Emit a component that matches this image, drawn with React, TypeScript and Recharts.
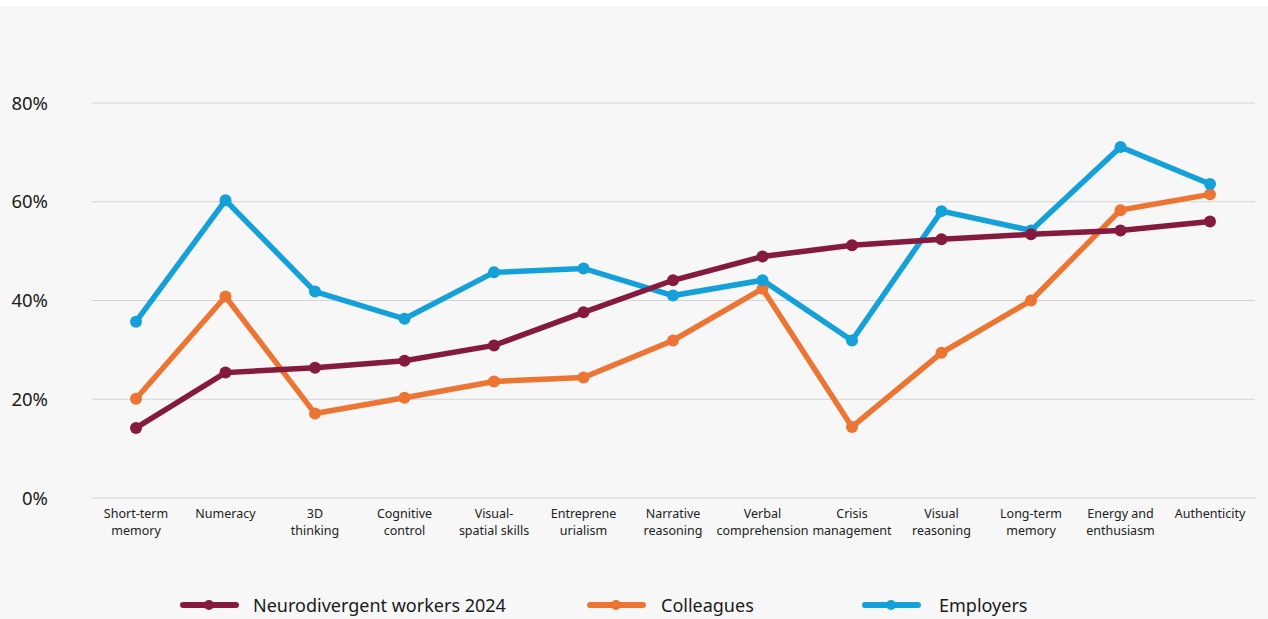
import React from 'react';
import { LineChart, Line, XAxis, YAxis, CartesianGrid } from 'recharts';

const skills = [
  'Short-term\nmemory',
  'Numeracy',
  '3D\nthinking',
  'Cognitive\ncontrol',
  'Visual-\nspatial skills',
  'Entreprene\nurialism',
  'Narrative\nreasoning',
  'Verbal\ncomprehension',
  'Crisis\nmanagement',
  'Visual\nreasoning',
  'Long-term\nmemory',
  'Energy and\nenthusiasm',
  'Authenticity',
];

const neurodivergent = [14.2, 25.4, 26.4, 27.8, 30.9, 37.6, 44.1, 48.9, 51.2, 52.4, 53.4, 54.2, 56.0];
const colleagues = [20.1, 40.8, 17.1, 20.3, 23.6, 24.4, 31.9, 42.4, 14.4, 29.4, 40.0, 58.3, 61.5];
const employers = [35.7, 60.3, 41.8, 36.3, 45.7, 46.5, 41.0, 44.1, 31.9, 58.1, 54.2, 71.1, 63.6];

const yTicks = [0, 20, 40, 60, 80];

const series = [
  { key: 'neuro', name: 'Neurodivergent workers 2024', color: '#841b3f' },
  { key: 'colleagues', name: 'Colleagues', color: '#ec7533' },
  { key: 'employers', name: 'Employers', color: '#14a0d8' },
];

const data = skills.map((skill, i) => ({
  skill,
  neuro: neurodivergent[i],
  colleagues: colleagues[i],
  employers: employers[i],
}));

const FONT = '"Noto Sans", "Open Sans", sans-serif';

function SkillTick({ x, y, payload }: any) {
  const lines = String(payload.value).split('\n');
  return (
    <text x={x} y={y} textAnchor="middle" fill="#222" fontSize={12.5} fontFamily={FONT}>
      {lines.map((line, i) => (
        <tspan key={i} x={x} dy={i === 0 ? 12 : 17}>
          {line}
        </tspan>
      ))}
    </text>
  );
}

function LegendRow() {
  const spots = [
    { left: 180, textLeft: 253 },
    { left: 587, textLeft: 661 },
    { left: 862, textLeft: 939 },
  ];
  return (
    <>
      {series.map((s, i) => (
        <div key={s.key}>
          <div
            style={{
              position: 'absolute',
              left: spots[i].left,
              top: 596,
              width: 59,
              height: 6,
              borderRadius: 3,
              background: s.color,
            }}
          />
          <div
            style={{
              position: 'absolute',
              left: spots[i].left + 24,
              top: 594,
              width: 10,
              height: 10,
              borderRadius: 5,
              background: s.color,
            }}
          />
          <div
            style={{
              position: 'absolute',
              left: spots[i].textLeft,
              top: 587,
              fontSize: 18,
              lineHeight: '24px',
              color: '#1a1a1a',
              fontFamily: FONT,
              whiteSpace: 'nowrap',
            }}
          >
            {s.name}
          </div>
        </div>
      ))}
    </>
  );
}

export default function App() {
  const order = [series[1], series[2], series[0]];
  return (
    <div style={{ width: 1268, height: 619, background: '#fff', position: 'relative' }}>
      <style>{'body{margin:0}'}</style>
      <div style={{ position: 'absolute', top: 6, left: 0, width: 1268, height: 613, background: '#f7f7f7' }}>
        <LineChart
          width={1268}
          height={613}
          data={data}
          margin={{ top: 97, right: 13, left: 0, bottom: 72 }}
        >
          <CartesianGrid vertical={false} stroke="#d3d3d3" strokeWidth={1} />
          <XAxis
            dataKey="skill"
            axisLine={false}
            tickLine={false}
            interval={0}
            height={49}
            padding={{ left: 44, right: 45 }}
            tick={<SkillTick />}
          />
          <YAxis
            domain={[0, 80]}
            ticks={yTicks}
            width={92}
            axisLine={false}
            tickLine={false}
            tickMargin={38}
            tickFormatter={(v: number) => `${v}%`}
            tick={{ fontSize: 18.5, fill: '#1a1a1a', fontFamily: FONT }}
          />
          {order.map((s) => (
            <Line
              key={s.key}
              dataKey={s.key}
              name={s.name}
              type="linear"
              stroke={s.color}
              strokeWidth={5.5}
              dot={{ r: 6, fill: s.color, stroke: s.color, strokeWidth: 0 }}
              activeDot={false}
              isAnimationActive={false}
            />
          ))}
        </LineChart>
        <LegendRow />
      </div>
    </div>
  );
}
